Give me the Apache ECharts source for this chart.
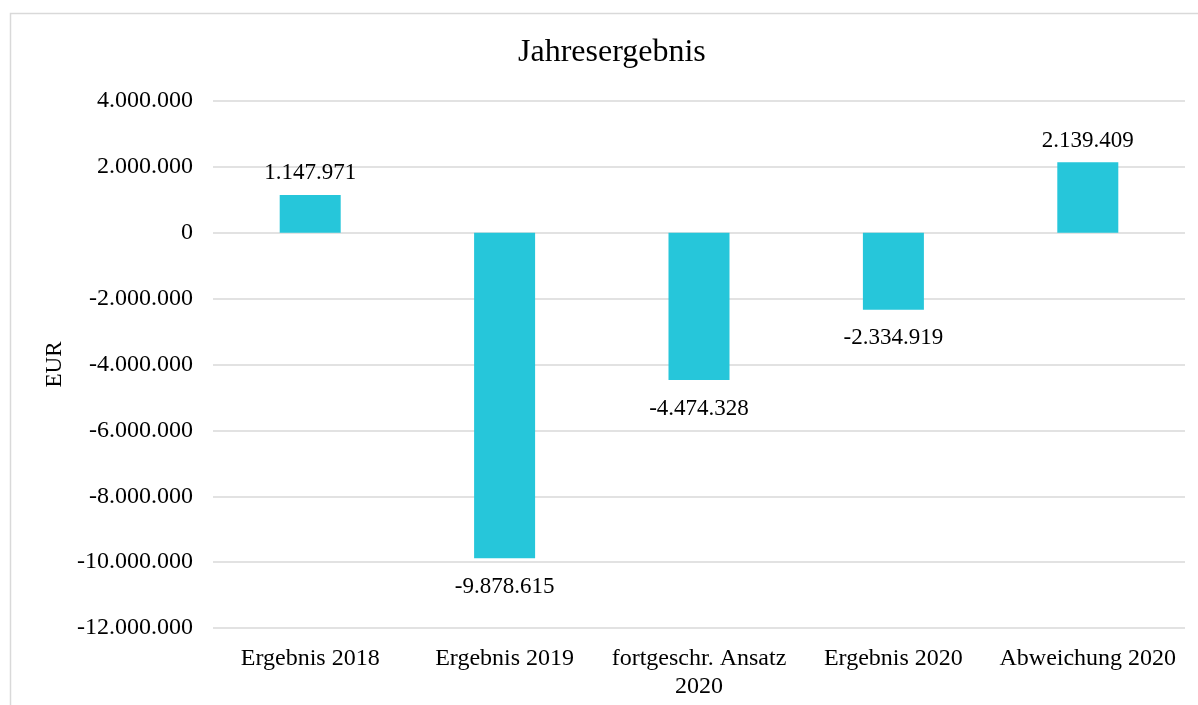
<!DOCTYPE html>
<html>
<head>
<meta charset="utf-8">
<script src="https://cdn.jsdelivr.net/npm/echarts@6/dist/echarts.min.js"></script>
<style>
  html, body { margin: 0; padding: 0; background: #fff; }
  #main { width: 1198px; height: 705px; }
</style>
</head>
<body>
<div id="main"></div>
<script>
var categories = ['Ergebnis 2018', 'Ergebnis 2019', 'fortgeschr. Ansatz\n2020', 'Ergebnis 2020', 'Abweichung 2020'];
var values = [1147971, -9878615, -4474328, -2334919, 2139409];

function fmt(v) {
  var s = String(Math.abs(v)).replace(/\B(?=(\d{3})+(?!\d))/g, '.');
  return (v < 0 ? '-' : '') + s;
}

var chart = echarts.init(document.getElementById('main'));

var barData = values.map(function (v) {
  return {
    value: v,
    label: { position: v < 0 ? 'bottom' : 'top', distance: v < 0 ? 17 : 10 }
  };
});

var option = {
  backgroundColor: '#fff',
  animation: false,
  textStyle: { fontFamily: 'Liberation Serif' },
  graphic: [{
    type: 'rect',
    left: 8, top: 11,
    shape: { width: 1230, height: 720 },
    style: { fill: 'none', stroke: '#d9d9d9', lineWidth: 1.5 },
    silent: true
  }],
  title: {
    text: 'Jahresergebnis',
    left: 513,
    top: 32,
    textStyle: { fontFamily: 'Liberation Serif', fontSize: 32, fontWeight: 'normal', color: '#000' }
  },
  grid: { left: 213, right: 13, top: 101, bottom: 77 },
  xAxis: {
    type: 'category',
    data: categories,
    axisLine: { show: false },
    axisTick: { show: false },
    axisLabel: {
      fontFamily: 'Liberation Serif', fontSize: 24, color: '#000',
      margin: 17, lineHeight: 28, interval: 0
    }
  },
  yAxis: {
    type: 'value',
    min: -12000000,
    max: 4000000,
    interval: 2000000,
    name: 'EUR',
    nameLocation: 'middle',
    nameGap: 143,
    nameRotate: 90,
    nameTextStyle: { fontFamily: 'Liberation Serif', fontSize: 23, color: '#000' },
    axisLine: { show: false },
    axisTick: { show: false },
    axisLabel: {
      fontFamily: 'Liberation Serif', fontSize: 24, color: '#000', margin: 20,
      formatter: fmt
    },
    splitLine: { lineStyle: { color: '#d9d9d9', width: 1.5 } }
  },
  series: [{
    type: 'bar',
    data: barData,
    barWidth: 61,
    itemStyle: { color: '#26C6DA' },
    label: {
      show: true,
      fontFamily: 'Liberation Serif', fontSize: 23, color: '#000',
      formatter: function (p) { return fmt(p.value); }
    }
  }]
};

chart.setOption(option);
</script>
</body>
</html>
